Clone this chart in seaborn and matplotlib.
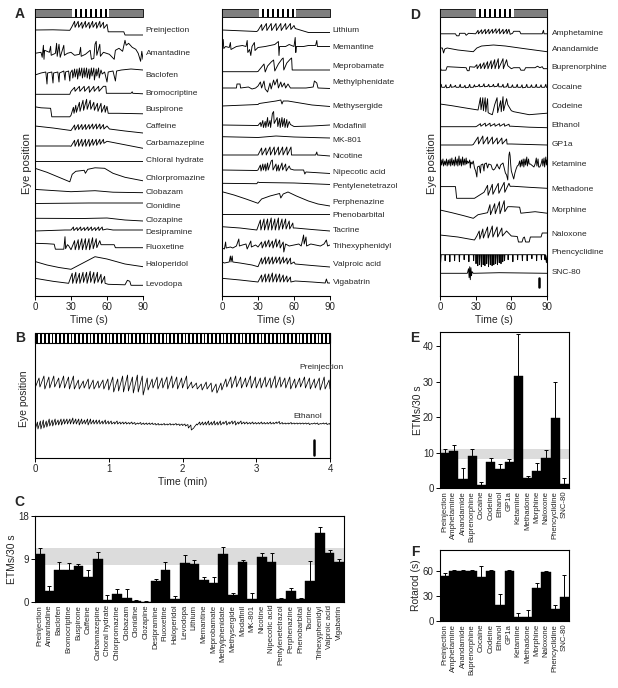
import numpy as np
import pandas as pd
import matplotlib
matplotlib.use("Agg")
import matplotlib.pyplot as plt
import matplotlib.transforms as mtransforms
from matplotlib.patches import Rectangle
import seaborn as sns

sns.set_theme(style="white")
plt.rcParams["font.family"] = ["Liberation Sans", "DejaVu Sans"]

# ---------------------------------------------------------------- data
# Panel A (left column) trace names and eye-position traces (t in s, relative deflection)
a_left_names = ["Preinjection", "Amantadine", "Baclofen", "Bromocriptine", "Buspirone",
                "Caffeine", "Carbamazepine", "Chloral hydrate", "Chlorpromazine", "Clobazam",
                "Clonidine", "Clozapine", "Desipramine", "Fluoxetine", "Haloperidol", "Levodopa"]
a_left_traces = [
    [(0,0.3),(15,0.5),(29,0),(30.5,3),(33,9),(33.4,3),(36,9),(36.4,3),(39,8),(39.4,2),(42,9),(42.4,3),(45,8),(45.4,2),(48,9),(48.4,3),(51,8),(51.4,2),(54,9),(54.4,3),(57,8),(57.4,2),(60,6),(61,-1.5),(74,-1.5),(75,-4.7),(90,-4.7)],
    [(0,0),(5,1),(6,-4),(7,8),(7.5,-6),(8,3),(12,1),(13,7),(13.5,-2),(17,0),(18,10),(18.5,-3),(20,9),(21,-4),(24,8),(24.5,-2),(27,0),(30,1),(33,-2),(37,-1),(38,6),(38.5,-3),(42,-1),(46,3),(47,-6),(49,-5),(50,9),(51,12),(51.5,-2),(54,9),(54.5,-3),(57,1),(62,-1),(66,-6),(67,3),(70,5),(73,2),(75,13),(76,8),(78,10),(81,6),(84,4),(86,0),(88,-8),(89,2),(90,-6)],
    [(0,1),(5,3),(9,4),(10,-8),(10.5,3),(14,4),(15,-7),(15.5,3),(19,4),(20,-6),(20.5,3),(24,5),(25,-4),(25.5,4),(28,5),(29,-5),(29.5,3),(31,6),(31.5,-2),(33,7),(33.5,-1),(35,7),(35.5,-3),(37,8),(37.5,0),(39,8),(39.5,-2),(41,8),(41.5,-1),(43,8),(43.5,-2),(45,7),(45.5,-3),(47,8),(47.5,0),(49,8),(49.5,-4),(51,7),(51.5,0),(53,8),(53.5,-2),(55,6),(56,2),(58,4),(60,-6),(61,4),(65,5),(67,-5),(68,5),(72,6),(80,7),(90,6)],
    [(0,-1),(29,-1),(30,2),(33,6),(33.4,2),(37,7),(37.4,2),(41,7),(41.4,2),(45,7),(45.4,1),(49,7),(49.4,2),(53,7),(53.4,2),(57,7),(59,7),(59.5,0),(80,0),(81,1.5),(81.5,0),(90,-0.5)],
    [(0,2.5),(5,1.5),(13,1),(14,-7.5),(29,-7.5),(30,-6),(32,2),(32.5,-4),(34,4),(34.5,-3),(37,7),(37.5,-2),(40,9),(40.5,-1),(43,10),(43.5,0),(46,9),(46.5,0),(49,7),(49.5,-1),(52,6),(52.5,-2),(55,6),(55.5,-3),(58,4),(58.5,-3),(60,3),(61,-4),(70,-4),(90,-4.5)],
    [(0,1),(15,-1),(30,-3.5),(33,2),(33.4,-3),(36,2.5),(36.4,-2.5),(39,2.5),(39.4,-2.5),(42,2.5),(42.4,-2.5),(45,2.5),(45.4,-2),(48,3),(48.4,-2),(51,3),(51.4,-2),(54,3),(54.4,-2),(57,2.5),(57.4,-2),(60,1),(62,-2),(75,-4),(90,-6)],
    [(0,-2.7),(29,-2.7),(30,-3),(33,3),(33.4,-3),(36,4),(36.4,-3),(39,4),(39.4,-3),(42,4),(42.4,-3),(45,4),(45.4,-3),(48,4),(48.4,-2),(51,4),(51.4,-2),(54,4),(54.4,-1),(57,4),(57.4,0),(60,2),(75,-1.5),(90,-5)],
    [(0,-0.5),(90,-0.5)],
    [(0,10),(10,6),(20,1),(29,-3.5),(31,4),(34,7),(41,8),(42,5),(44,9),(50,10.5),(58,10),(65,5),(75,1),(90,-2.5)],
    [(0,3.3),(30,1),(50,2),(65,0.5),(90,0)],
    [(0,2.5),(45,3),(90,3)],
    [(0,1.7),(40,1.5),(60,2),(75,0),(90,-1)],
    [(0,2),(25,3),(30,3),(32,6),(32.4,2.5),(35,5.5),(35.4,2.5),(38,6),(38.4,2.5),(41,5.5),(41.4,2.5),(44,6),(44.4,2.5),(47,6),(47.4,2.5),(50,5.5),(50.4,2.5),(53,6),(53.4,2.5),(56,6),(56.4,3),(60,4),(65,3),(90,3)],
    [(0,4.4),(10,4),(16,3.5),(17,-1.5),(24,-1.5),(25,11),(25.5,-1),(27,3),(28,2),(30,-2),(33,7),(33.5,-2),(36,8),(36.5,-2),(39,9),(39.5,-2),(42,9),(42.5,-2),(45,9),(45.5,-2),(48,10),(48.5,-1),(51,9),(51.5,0),(54,7),(55,3),(60,3),(66,3),(67,0),(90,0)],
    [(0,3.5),(10,0),(20,-2.5),(30,-4.3),(40,2),(50,8.3),(60,6),(75,1),(90,-1.7)],
    [(0,6),(15,3),(28,1),(31,11),(31.4,1),(34,12),(34.4,1),(37,11),(37.4,1),(40,12),(40.4,2),(43,12),(43.4,1),(46,13),(46.4,2),(49,12),(49.4,1),(52,12),(52.4,2),(55,10),(55.4,1),(58,8),(58.4,1),(61,0),(75,-0.5),(77,4),(79,3),(80,-1),(90,-1)],
]

# Panel A (right column)
a_right_names = ["Lithium", "Memantine", "Meprobamate", "Methylphenidate", "Methysergide",
                 "Modafinil", "MK-801", "Nicotine", "Nipecotic acid", "Pentylenetetrazol",
                 "Perphenazine", "Phenobarbital", "Tacrine", "Trihexyphenidyl", "Valproic acid", "Vigabatrin"]
a_right_traces = [
    [(0,0.5),(29,-1),(30,0),(33,6),(33.4,0),(37,7),(37.4,0),(41,7),(41.4,0),(45,7),(45.4,0),(49,7),(49.4,0),(53,7),(53.4,1),(57,7),(57.4,1),(60,5),(61,2),(72,-2),(90,-2)],
    [(0,1),(1,8),(1.5,-1),(3,1),(6,0),(7,5),(7.5,-2),(12,1),(17,2),(20,1),(21,7),(21.5,-5),(23,-2),(24,-8),(25,1),(27,5),(27.5,-3),(30,0),(36,1),(40,2),(44,3),(47,6),(47.5,-8),(48,1),(53,1),(56,3),(60,1),(61,10),(61.5,-5),(62,1),(68,1),(72,2),(78,2),(79,7),(79.5,1),(90,1)],
    [(0,-4.7),(29,-4.7),(30,-4.5),(33,0),(35,3),(36,-5),(38,1),(41,5),(43,7),(44,-4),(47,3),(50,8),(51,9),(51.5,-3),(54,4),(57,8),(58,9),(58.5,-3),(60,-3),(90,-3)],
    [(0,-5),(12,-5),(12.5,-1),(15,-1),(15.5,-5),(22,-4),(25,-6),(28,-5),(30,-3),(32,1),(33,-5),(35,2),(36,-6),(38,-9),(40,0),(41,-6),(43,3),(44,-2),(46,4),(47,-5),(49,1),(50,-4),(52,0),(53,-5),(55,-1),(57,-5),(60,-5),(70,-5),(76,-4),(77,2),(79,0),(80,-5),(90,-5.5)],
    [(0,1),(30,2.5),(31,3.5),(45,6),(49,7),(50,3),(51,6),(55,6),(60,5),(75,2),(90,0.5)],
    [(0,1.5),(29,1),(30,1),(32,4),(32.5,0),(34,6),(34.5,-1),(36,5),(36.5,-1),(38,9),(38.5,0),(40,6),(40.5,-1),(42,13),(43,15),(43.5,3),(46,9),(46.5,0),(48,8),(48.5,-1),(50,9),(50.5,0),(52,8),(52.5,-1),(54,7),(54.5,-1),(56,5),(57,2),(60,0),(75,0.5),(90,1.5)],
    [(0,4.3),(30,3.5),(45,5),(60,4),(90,3)],
    [(0,1),(29,1),(30,1),(33,8),(33.4,1),(36.5,8),(36.9,1),(40,9),(40.4,1),(43.5,9),(43.9,1),(47,9),(47.4,1),(50.5,9),(50.9,1),(54,9),(54.4,1),(57.5,9),(57.9,1),(61,1),(78,1),(79,4),(79.5,1),(90,0)],
    [(0,3),(29,2.5),(30,3),(32,8),(32.5,2),(34,9),(34.5,3),(36,9),(36.5,2),(38,10),(38.5,3),(41,12),(42,13),(42.5,3),(45,9),(45.5,2),(47,8),(47.5,2),(50,10),(50.5,3),(53,9),(53.5,2),(56,7),(57,4),(60,3),(68,3),(69,-1),(70,1),(90,-0.5)],
    [(0,2.7),(29,2.3),(30,4),(31,3.5),(60,3),(90,1.5)],
    [(0,10.3),(10,7),(20,3),(30,-1.3),(33,3),(40,6),(48,8.5),(49,4),(51,8),(55,10),(62,6),(72,1),(80,-2),(90,-4)],
    [(0,1.2),(90,1.2)],
    [(0,4.3),(15,3),(29,1),(32,11),(32.4,1),(35,12),(35.4,1),(38,12),(38.4,1),(41,13),(41.4,1),(44,12),(44.4,1),(47,13),(47.4,1),(50,12),(50.4,2),(53,12),(53.4,2),(56,10),(56.4,2),(59,8),(59.4,3),(61,3),(75,1.5),(90,0)],
    [(0,-1),(2,-2),(3,5),(3.5,-1),(7,0),(9,-1),(12,1),(14,8),(14.5,1),(17,2),(20,3),(21,-2),(24,6),(24.5,0),(28,2),(30,0),(33,5),(33.5,-1),(36,6),(36.5,0),(39,7),(39.5,0),(42,6),(42.5,-1),(45,8),(45.5,0),(48,7),(48.5,-1),(51,5),(51.5,-5),(53,3),(56,1),(60,2),(64,3),(66,1),(68,12),(68.5,3),(70,10),(70.5,1),(74,3),(78,2),(82,1),(85,3),(87,7),(88,1),(90,2)],
    [(0,3),(2,2),(6,3),(7,9),(7.5,3),(8.5,9),(9,3),(15,2),(25,0),(30,-1.7),(33,7),(33.4,1),(36,8),(36.4,1),(39,8),(39.4,1),(42,8),(42.4,1),(45,8),(45.4,2),(48,8),(48.4,1),(51,8),(51.4,2),(54,7),(54.4,1),(57,7),(57.4,1),(60,3),(61,1),(75,-0.5),(90,-2)],
    [(0,3.7),(15,2),(30,0),(33,7),(33.4,0),(36,8),(36.4,0),(39,8),(39.4,0),(42,9),(42.4,0),(45,8),(45.4,0),(48,8),(48.4,0),(51,7),(51.4,0),(54,6),(54.4,0),(57,5),(57.4,0),(61,1),(75,0),(86,-1),(87,3),(88,-1),(90,-1)],
]

# Panel D traces
d_names = ["Amphetamine", "Anandamide", "Buprenorphine", "Cocaine", "Codeine", "Ethanol", "GP1a",
           "Ketamine", "Methadone", "Morphine", "Naloxone", "Phencyclidine", "SNC-80"]
d_traces = [
    [(0,-0.5),(13,-0.5),(14,-2.5),(16,-2.5),(16.5,0),(21,0),(22,-2),(24,0),(30,-0.5),(32,3),(32.3,-0.5),(35,3.5),(35.3,-0.5),(38,4),(38.3,-0.5),(41,4),(41.3,-0.5),(44,4),(44.3,0),(47,4.5),(47.3,0),(50,4.5),(50.3,-0.5),(53,4),(53.3,-0.5),(56,4),(56.3,-0.5),(58,4),(59,-1),(61,0),(62,2),(67,2),(68,-0.5),(86,-0.5),(87,3),(87.5,-0.5),(90,-0.5)],
    [(0,2),(2,2),(3,-3),(4,1),(6,2),(15,0),(28,-1.7),(31,2),(35,4),(45,5),(55,4),(70,1.5),(90,-1.7)],
    [(0,1),(1,-2.5),(5,-2.5),(6,1),(22,0),(23,-3),(24.5,-3),(25,1),(29,0.5),(31,3),(31.3,-1),(34,4),(34.3,-1),(37,5),(37.3,-1),(40,6),(40.3,-1),(43,7),(43.3,-1),(46,8),(46.3,-1),(49,9),(49.3,-1),(53,9),(53.3,-1),(56,8),(57,2),(60,-1),(62,0),(67,0),(68,-2.5),(71,-2.5),(72,0),(80,0),(82,1.5),(84,0),(86,1),(87,-1),(90,-1)],
    [(0,0),(1,3),(1.5,0),(4,0),(5,2.5),(5.5,-0.5),(8,0),(9,3),(9.5,0),(12,0.5),(13,2),(13.5,0),(16,0),(17,3),(17.5,0),(20,0),(21,2),(21.5,-0.5),(24,0),(25,3),(25.5,0),(28,0),(29,2.5),(29.5,0.5),(32,1),(33,3),(33.5,0.5),(36,1),(37,3.5),(37.5,0.5),(40,1),(41,3),(41.5,0.5),(44,1),(45,3),(45.5,0.5),(48,1),(49,4),(49.5,0.5),(52,0.5),(53,3),(53.5,0),(56,0.5),(57,4),(57.5,0),(60,0),(61,2.5),(61.5,0),(64,0),(65,3),(65.5,0),(68,0),(69,2.5),(69.5,-0.5),(72,0),(73,3),(73.5,0),(76,0),(77,2.5),(77.5,0),(80,0),(81,3),(81.5,0),(84,0),(85,2.5),(85.5,0),(88,0),(89,3),(89.5,0),(90,0)],
    [(0,2.7),(10,1),(20,-1),(32,-3.3),(34,9),(34.5,-3),(36,9),(36.5,-4),(38,9),(38.5,-5),(40,8),(40.5,-6),(42,-7),(44,-8),(46,2),(48,9),(48.5,-6),(51,6),(51.5,-5),(53,10),(53.5,-4),(56,8),(57,2),(60,-4),(62,-5),(75,-8),(90,-6.5)],
    [(0,-1),(30,-1),(31,-0.5),(34,2),(34.4,-0.5),(38,2.5),(38.4,-0.5),(42,2.5),(42.4,-0.5),(46,2),(46.4,-0.5),(50,2),(50.4,-0.5),(54,2),(54.4,-0.5),(58,1.5),(58.4,-0.5),(60,-0.5),(75,-1.5),(90,-2)],
    [(0,-1),(27,-1),(28,-0.5),(32,7),(32.4,0),(36,8),(36.4,0),(40,7),(40.4,0),(44,7),(44.4,0),(48,6),(48.4,0),(52,6),(52.4,0),(56,5),(56.4,0),(60,0),(90,-1)],
    [(0,3),(0.5,-1),(1,5),(1.5,0),(2.5,6),(3,-1),(4,4),(4.5,0),(5.5,6),(6,-1),(7,5),(7.5,0),(8.5,6),(9,-1),(10,7),(10.5,0),(11.5,5),(12,-1),(13,8),(13.5,0),(14.5,6),(15,-1),(16,9),(16.5,0),(17.5,6),(18,-1),(19,8),(19.5,0),(20.5,6),(21,0),(22,7),(22.5,1),(23,4),(24,2),(25,5),(25.5,-3),(26,3),(27,1),(28,4),(29,-3),(30,-6),(31,-12),(31.5,-2),(33,-1),(34,-8),(34.5,0),(36,1),(37,-6),(37.5,1),(39,2),(40,-3),(41,1),(43,0),(44,-4),(45,-5),(46,-4),(47,-2),(48,1),(49,-2),(50,-4),(51,0),(53,2),(54,-3),(55,-8),(56,-10),(57,-15),(57.5,0),(58,10),(58.5,13),(59,9),(59.5,0),(60,-6),(61,-10),(62,-14),(63,-8),(64,-4),(65,-1),(66,0),(67,4),(67.5,-2),(68.5,5),(69,-1),(70,6),(70.5,-2),(71.5,6),(72,0),(73,8),(73.5,-1),(74.5,6),(75,1),(76,1),(77,0),(78,-1),(79,-2),(80,1),(81,7),(81.5,-1),(82.5,6),(83,-2),(84,-2),(85,1),(86,6),(86.5,-1),(87.5,7),(88,-2),(89,8),(89.5,0),(90,5)],
    [(0,2.7),(13,2.7),(14,-9),(29,-9),(33,-6),(37,-3),(40,4),(40.5,-6),(44,5),(44.5,-5),(49,6),(49.5,-4),(54,7),(54.5,-3),(58,6),(59,3),(62,3),(75,2),(90,1)],
    [(0,0.7),(10,-2),(20,-5),(28,-7.6),(32,-4),(36,-3),(40,-2),(42,6),(42.5,-4),(46,7),(46.5,-3),(50,9),(50.5,-3),(54,10),(54.5,-1),(57,4),(60,4),(67,3.5),(68,-2.5),(80,-1),(90,-2.5)],
    [(0,-1),(15,-3),(29,-6),(31,-2),(33,3),(33.5,-5),(36,5),(36.5,-4),(40,7),(40.5,-4),(44,8),(44.5,-3),(48,7),(48.5,-3),(52,6),(52.5,-2),(56,3),(60,-2),(65,-2.5),(66,-8),(69,-8),(70,-4),(71,-3),(72,-8),(75,-8),(76,-3),(85,-3),(86,1),(90,1)],
    [(0,-2),(0.5,-10),(1,-2),(4,-2),(4.3,-8),(4.6,-2),(8,-2),(8.3,-9),(8.6,-2),(12,-2),(12.3,-8),(12.6,-2),(16,-2),(16.3,-9),(16.6,-2),(20,-2),(20.3,-7),(20.6,-2),(24,-2),(24.3,-9),(24.6,-2),(28,-2),(28.3,-8),(28.6,-2),(30,-2),(30.3,-11),(30.6,-2),(31.5,-2),(31.8,-13),(32.1,-2),(33,-2),(33.3,-12),(33.6,-2),(34.5,-2),(34.8,-14),(35.1,-2),(36,-2),(36.3,-12),(36.6,-2),(37.5,-2),(37.8,-13),(38.1,-2),(39,-2),(39.3,-11),(39.6,-2),(40.5,-2),(40.8,-14),(41.1,-2),(42,-2),(42.3,-12),(42.6,-2),(43.5,-2),(43.8,-13),(44.1,-2),(45,-2),(45.3,-12),(45.6,-2),(46.5,-2),(46.8,-11),(47.1,-2),(48,-2),(48.3,-12),(48.6,-2),(49.5,-2),(49.8,-10),(50.1,-2),(51,-2),(51.3,-11),(51.6,-2),(52.5,-2),(52.8,-9),(53.1,-2),(54,-2),(54.3,-8),(54.6,-2),(57,-2),(57.3,-7),(57.6,-2),(61,-2),(61.3,-9),(61.6,-2),(65,-2),(65.3,-7),(65.6,-2),(69,-2),(69.3,-8),(69.6,-2),(73,-2),(73.3,-8),(73.6,-2),(77,-2),(77.3,-6),(77.6,-2),(81,-2),(81.3,-8),(81.6,-2),(85,-2),(85.3,-7),(85.6,-2),(88,-2),(88.3,-7),(88.6,-2),(89.5,-10),(90,-3)],
    [(0,-0.6),(23,-0.6),(24,4),(24.5,-5),(25,6),(25.5,-7),(26,5),(26.5,-3),(27,1),(28,-0.6),(50,0),(90,-0.6)],
]

# Stimulus stripes (s) for A and D
stim_window = (30.5, 62.0)
stim_stripes = [33.2, 37.4, 41.5, 45.7, 49.8, 54.0, 58.2]

# Panel B: 4-min recordings, per-ETM trough and peak deflections
b_pre_troughs = [-4,-3,-5,-4,-3,-4,-4,-5, -5,-5,-4,-5,-5,-4,-5,-6, -8,-7,-8,-7,-9,-8,-11,
                 -6,-4,-5,-4,-5,-4,-5,-4, -5,-4,-5,-6,-5,-8,-9, -6,-3,-4,-3,-4,-3,-4,-4,
                 -4,-3,-4,-4,-3,-4,-5,-4,-3,-4,-5,-4,-6,-5]
b_pre_peaks = [6,8,7,8,6,8,7,8, 4,3,5,4,3,4,5,7, 5,8,9,7,9,8,6, 5,7,6,7,8,7,6,8,
               2,1,0,2,1,0,1, 5,7,8,7,6,8,7,6, 7,6,8,7,6,7,5,6,7,6,5,6,7,4]
b_eth_troughs = [-6,-5,-5,-4,-3,-2,-2,-1,-1,-1, 0,0,0,0,0,-1,0,0,-1,0, 0,0,0,0,0,0,0,0,0,0,
                 0,0,0,0,-0.5,0,-0.5,-0.5,-0.5,-0.5, -0.5,-1,-1,-1,-1,-1,-1,-1,-1,-1.5,
                 -1.5,-2,-4,-6,-3,-1,-1,-1,-1,-1, -1,-1,-1,-1,0,-1,0,0,-1,0, 0,0,0,0,0,0,0,0,0,0,
                 0,0,0.5,0,0,0,0,0,0,0, 0,0,0,-0.5,0,0,-0.5,0,0,-0.5]
b_eth_peaks = [2,3,4,3,5,4,5,4,5,5, 5,5,6,5,5,5,4,5,5,4, 4,4,3,4,3,3,2,3,2,2,
               2,1.5,2,1.5,1,1.5,1,1,1,1, 0.5,0.5,0,0.5,0,0.5,0,0.5,0,0,
               0,-0.5,-1,-4,0,2,2,2,3,2, 3,2,3,2,3,2,3,3,2,3, 2,2,1.5,2,1.5,1.5,2,1.5,1.5,2,
               1.5,2,2.5,1.5,1,1,1.5,1,1,1, 1,1,1,0.5,1,1,0.5,1,1,0.5]

# Panel C
c_drugs = ["Preinjection", "Amantadine", "Baclofen", "Bromocriptine", "Buspirone", "Caffeine",
           "Carbamazepine", "Choral hydrate", "Chlorpromazine", "Clobazam", "Clonidine", "Clozapine",
           "Desipramine", "Fluoxetine", "Haloperidol", "Levodopa", "Lithium", "Memantine",
           "Meprobamate", "Methylphenidate", "Methysergide", "Modafinil", "MK-801", "Nicotine",
           "Nipecotic acid", "Pentylenetetrazol", "Perphenazine", "Phenobarbital", "Tacrine",
           "Trihexyphenidyl", "Valproic acid", "Vigabatrin"]
c_etms = [10.0, 2.4, 6.6, 6.6, 7.5, 5.3, 9.1, 0.35, 1.7, 0.8, 0.15, 0.07, 4.4, 6.7, 0.6, 8.1,
          8.0, 4.6, 3.9, 10.0, 1.5, 8.4, 0.7, 9.5, 8.4, 0.7, 2.4, 0.6, 4.3, 14.4, 10.2, 8.4]
c_err = [1.2, 1.0, 1.8, 1.5, 0.5, 1.3, 1.3, 1.05, 1.0, 1.9, 0.35, 0.13, 0.5, 1.7, 0.6, 1.7,
         0.7, 0.7, 1.4, 1.6, 0.4, 0.4, 1.2, 0.7, 1.8, 0.2, 0.5, 0.2, 4.3, 1.4, 0.7, 0.7]
c_band = (7.8, 11.3)

# Panels E and F
ef_drugs = ["Preinjection", "Amphetamine", "Anandamide", "Buprenorphine", "Cocaine", "Codeine",
            "Ethanol", "GP1a", "Ketamine", "Methadone", "Morphine", "Naloxone", "Phencyclidine", "SNC-80"]
e_etms = [9.8, 10.5, 2.5, 9.0, 0.8, 7.4, 5.3, 7.3, 31.5, 2.7, 4.8, 8.6, 19.7, 1.2]
e_err = [1.2, 1.5, 3.1, 2.0, 0.9, 1.0, 1.6, 0.8, 11.9, 0.8, 2.2, 2.0, 10.2, 1.7]
e_band = (8.2, 11.0)
f_rotarod = [54, 59.5, 60, 59.5, 53, 60, 19, 60, 4.5, 5.2, 39, 59, 14, 29]
f_err = [4, 1.5, 0.5, 2, 13, 0.5, 13, 1, 4.7, 8, 7, 1, 5, 26]

# ---------------------------------------------------------------- layout
W, H = 618, 688
fig = plt.figure(figsize=(W / 100, H / 100), dpi=100)
fig.patch.set_facecolor("white")

def add_ax(x0, y0, x1, y1):
    return fig.add_axes([x0 / W, 1 - y1 / H, (x1 - x0) / W, (y1 - y0) / H])

A_LEFT_ROWS = [30.3, 53.3, 76, 93.3, 109.3, 127, 143.3, 160.3, 178.3, 192.7, 206, 220, 233, 247.7, 265, 284.3]
A_RIGHT_ROWS = [30.5, 47.5, 67, 83, 107, 126.5, 141, 156, 173, 186, 202, 215.5, 231, 247, 265, 282]
D_ROWS = [33.3, 50, 67.7, 87.3, 106.7, 125.7, 144, 165, 189.3, 210.7, 234, 252.7, 272.7]

LW = 0.65
TICK_FS = 7
LABEL_FS = 7.5
NAME_FS = 6.0

def style_time_axis(ax, right_spine=False):
    for s in ["top", "right"]:
        ax.spines[s].set_visible(False)
    ax.spines["right"].set_visible(right_spine)
    for s in ["left", "bottom", "right"]:
        ax.spines[s].set_color("black")
        ax.spines[s].set_linewidth(0.8)
    ax.set_yticks([])
    ax.tick_params(axis="x", direction="out", length=3, width=0.7, labelsize=TICK_FS, pad=1.5,
                   bottom=True, color="black")
    ax.set_ylabel("")

def trace_panel(ax, names, traces, rows, y0, y1, label_x, right_spine=False, scalebar=None):
    ax.set_xlim(0, 90)
    ax.set_ylim(-y1, -y0)
    for name, tr, r in zip(names, traces, rows):
        df = pd.DataFrame(tr, columns=["t", "y"])
        df["y"] = df["y"] - r
        sns.lineplot(data=df, x="t", y="y", ax=ax, estimator=None, sort=False,
                     color="black", linewidth=LW, legend=False)
        trans = mtransforms.blended_transform_factory(ax.transAxes, ax.transData)
        ax.text(label_x, -r, name, transform=trans, fontsize=NAME_FS, va="center", ha="left")
    top = -y0
    ax.add_patch(Rectangle((0, top - 8), 90, 8, facecolor="#7f7f7f", edgecolor="black",
                           linewidth=0.6, clip_on=False, zorder=3))
    ax.add_patch(Rectangle((stim_window[0], top - 8), stim_window[1] - stim_window[0], 8,
                           facecolor="white", edgecolor="none", clip_on=False, zorder=3))
    for s in stim_stripes:
        ax.add_patch(Rectangle((s, top - 8), 1.5, 8, facecolor="black", edgecolor="none",
                               clip_on=False, zorder=4))
    if scalebar is not None:
        ax.plot([scalebar[0], scalebar[0]], [-scalebar[2], -scalebar[1]], color="black", lw=1.8)
    ax.set_xticks([0, 30, 60, 90])
    ax.set_xlabel("Time (s)", fontsize=LABEL_FS, labelpad=2)
    style_time_axis(ax, right_spine)

axA1 = add_ax(35, 9, 143, 296)
trace_panel(axA1, a_left_names, a_left_traces, A_LEFT_ROWS, 9, 296, 1.025)
axA2 = add_ax(222, 9, 330, 296)
trace_panel(axA2, a_right_names, a_right_traces, A_RIGHT_ROWS, 9, 296, 1.025)
axD = add_ax(440, 9, 547, 296)
trace_panel(axD, d_names, d_traces, D_ROWS, 9, 296, 1.045, right_spine=True,
            scalebar=(83.3, 278, 287))

# B
axB = add_ax(35, 333, 330, 458)
axB.set_xlim(0, 4)
axB.set_ylim(-458, -333)
def saw_df(troughs, peaks, center):
    n = len(troughs)
    dt = 4.0 / n
    pts = []
    for i in range(n):
        pts.append((i * dt, troughs[i]))
        pts.append((i * dt + 0.82 * dt, peaks[i]))
    pts.append((4.0, troughs[-1]))
    df = pd.DataFrame(pts, columns=["t", "y"])
    df["y"] = df["y"] - center
    return df
sns.lineplot(data=saw_df(b_pre_troughs, b_pre_peaks, 384), x="t", y="y", ax=axB,
             estimator=None, sort=False, color="black", linewidth=0.55, legend=False)
sns.lineplot(data=saw_df(b_eth_troughs, b_eth_peaks, 424), x="t", y="y", ax=axB,
             estimator=None, sort=False, color="black", linewidth=0.55, legend=False)
axB.text(3.58, -367, "Preinjection", fontsize=NAME_FS, va="center", ha="left")
axB.text(3.5, -416, "Ethanol", fontsize=NAME_FS, va="center", ha="left")
axB.add_patch(Rectangle((0, -343), 4, 10, facecolor="white", edgecolor="black",
                        linewidth=0.8, clip_on=False, zorder=3))
for s in np.arange(0.02, 4.0, 0.0515):
    axB.add_patch(Rectangle((s, -343), 0.024, 10, facecolor="black", edgecolor="none",
                            clip_on=False, zorder=4))
axB.plot([3.78, 3.78], [-455, -440], color="black", lw=1.8)
axB.set_xticks([0, 1, 2, 3, 4])
axB.set_xlabel("Time (min)", fontsize=LABEL_FS, labelpad=2)
style_time_axis(axB, right_spine=True)

# Bar panels
def bar_panel(ax, cats, vals, errs, ylim, yticks, ylabel, label_x, band=None, fs=5.6):
    n = len(cats)
    if band is not None:
        ax.axhspan(band[0], band[1], color="#dcdcdc", zorder=0, lw=0)
    df = pd.DataFrame({"drug": cats, "v": vals})
    sns.barplot(data=df, x="drug", y="v", ax=ax, color="black", saturation=1, width=1.0,
                edgecolor="black", linewidth=0.3, zorder=2)
    ax.errorbar(np.arange(n), vals, yerr=[np.zeros(n), errs], fmt="none", ecolor="black",
                elinewidth=0.7, capsize=1.6, capthick=0.7, zorder=3)
    ax.set_xlim(-0.5, n - 0.5)
    ax.set_ylim(*ylim)
    ax.set_yticks(yticks)
    ax.set_xlabel("")
    ax.set_ylabel(ylabel, fontsize=LABEL_FS)
    ax.yaxis.set_label_coords(label_x, 0.5)
    ax.set_xticks(np.arange(n))
    ax.set_xticklabels(cats, rotation=90, fontsize=fs)
    ax.tick_params(axis="x", length=0, pad=2)
    ax.tick_params(axis="y", direction="out", length=3, width=0.7, labelsize=TICK_FS, pad=1.5,
                   left=True, color="black")
    for s in ax.spines.values():
        s.set_visible(True)
        s.set_color("black")
        s.set_linewidth(0.8)
    ax.set_facecolor("white")

axC = add_ax(35, 516, 344, 602)
bar_panel(axC, c_drugs, c_etms, c_err, (0, 18), [0, 9, 18], "ETMs/30 s", -0.058, band=c_band)
axE = add_ax(440, 332, 569, 488)
bar_panel(axE, ef_drugs, e_etms, e_err, (0, 44), [0, 10, 20, 30, 40], "ETMs/30 s", -0.13, band=e_band)
axF = add_ax(440, 550, 569, 621)
bar_panel(axF, ef_drugs, f_rotarod, f_err, (0, 85), [0, 30, 60], "Rotarod (s)", -0.15)

fig.text(27 / W, 1 - 163 / H, "Eye position", rotation=90, fontsize=8, ha="center", va="center")
fig.text(432 / W, 1 - 163 / H, "Eye position", rotation=90, fontsize=8, ha="center", va="center")
fig.text(24 / W, 1 - 399 / H, "Eye position", rotation=90, fontsize=7.5, ha="center", va="center")

for letter, (x, y) in {"A": (20, 14), "B": (20, 338), "C": (19, 502),
                       "D": (415, 15), "E": (415, 338), "F": (415, 552)}.items():
    fig.text(x / W, 1 - y / H, letter, fontsize=10, fontweight="bold", ha="center", va="center")

fig.savefig("out.png", dpi=100, facecolor="white")
